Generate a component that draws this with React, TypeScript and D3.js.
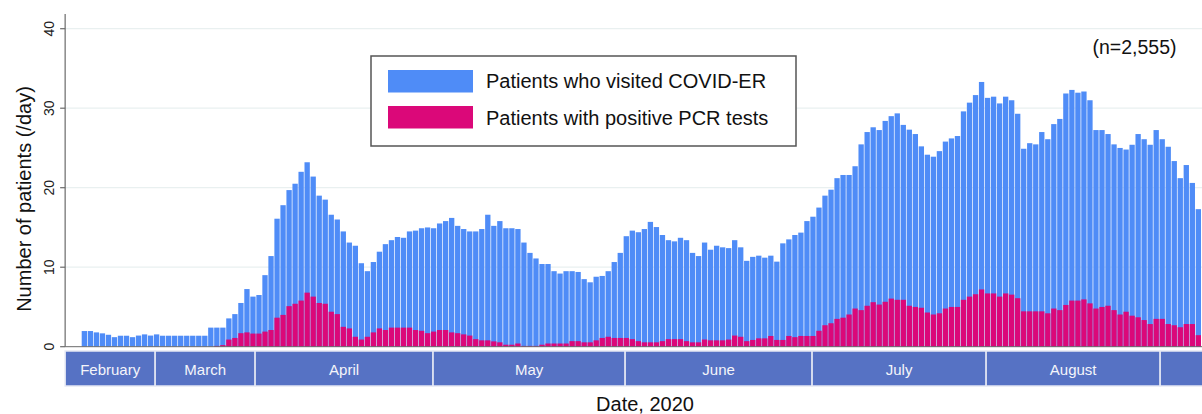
import React from "react"
import * as d3 from "d3"

// daily counts (186 bars)
const visited: number[] = [
  1.97, 1.97, 1.8, 1.68, 1.5, 1.2, 1.38, 1.38, 1.2, 1.4, 1.55, 1.4, 1.55,
  1.38, 1.38, 1.38, 1.38, 1.38, 1.38, 1.38, 1.38,
  2.4, 2.4, 2.4,
  3.56, 4.1, 5.5, 7.25, 6.3, 6.5, 9.0, 11.4, 16.1, 17.8, 19.7, 20.5, 22.0, 23.2,
  21.4, 19.0, 18.5, 16.6, 16.0, 14.5, 13.1, 12.7, 10.5, 9.5, 10.65, 11.95, 12.9, 13.4, 13.8, 13.7,
  14.5, 14.6, 14.9, 15.0, 14.9, 15.5, 15.8, 16.2, 15.2, 14.8, 14.5, 14.5, 14.8, 16.6, 15.2, 15.8,
  14.9, 14.9, 14.8, 13.1, 11.8,
  11.1, 10.4, 10.4, 9.5, 9.2, 9.5, 9.5, 9.4, 8.5, 8.1, 8.8, 8.9, 9.5, 10.65, 11.8, 13.9, 14.6, 14.4,
  14.8, 15.7, 15.05, 14.05, 13.4, 13.25, 13.7, 13.4, 11.8, 11.4, 13.1, 12.2, 12.7, 12.5, 12.4, 13.4,
  12.5, 10.8,
  11.3, 11.45, 11.2, 11.45, 10.7, 13.0, 13.5, 14.05, 14.35, 15.8, 16.35, 17.5, 19.0, 19.75, 21.2,
  21.6, 21.6, 22.7, 25.45, 27.0, 27.6, 27.25, 28.4, 29.0, 29.35, 27.9, 27.3, 26.75, 25.2, 24.15,
  23.9, 24.6, 25.8, 26.2, 26.5, 29.6, 30.7,
  31.65, 33.3, 31.3, 31.45, 30.6, 31.45, 31.0, 29.3, 24.9, 25.6, 25.45, 27.0, 26.1, 28.0, 28.65,
  31.85, 32.3, 31.95, 32.1, 31.0, 27.25, 27.25, 26.75, 25.45, 25.0, 24.8, 25.4, 26.75, 26.1, 25.4,
  27.25, 26.1, 25.15, 23.35, 21.2, 22.85, 20.6, 17.3,
]

const positive: number[] = [
  0, 0, 0, 0, 0, 0, 0, 0, 0, 0, 0, 0, 0, 0, 0, 0, 0, 0, 0, 0, 0,
  0, 0.1, 0.2,
  0.9, 1.1, 1.7, 1.8, 1.65, 1.65, 1.9, 2.1, 3.65, 4.0, 5.1, 5.4, 5.8, 6.8,
  6.3, 5.5, 5.4, 4.4, 4.1, 2.5, 2.3, 1.25, 0.9, 1.25, 1.8, 2.3, 2.1, 2.4, 2.4, 2.4, 2.4, 2.1, 2.0,
  1.7, 1.9, 2.1, 2.1, 1.8, 1.7, 1.55, 1.4, 0.95, 0.8, 0.8, 0.67, 0.55, 0.25, 0.25, 0.4, 0.1, 0.1,
  0.1, 0.25, 0.4, 0.4, 0.4, 0.4, 0.7, 0.7, 0.55, 0.55, 0.8, 1.1, 1.25, 1.1, 1.1, 1.1, 0.95, 0.7,
  0.55, 0.55, 0.55, 0.7, 0.95, 0.95, 0.95, 0.7, 0.55, 0.55, 0.9, 0.8, 0.8, 0.8, 0.9, 1.4, 1.25, 0.7,
  0.85, 1.05, 1.05, 1.35, 0.85, 0.85, 1.35, 1.2, 1.35, 1.35, 1.35, 2.0, 2.7, 2.95, 3.5, 3.65, 4.05,
  4.8, 4.6, 5.15, 5.6, 5.3, 5.65, 6.05, 5.9, 5.9, 5.15, 5.0, 4.9, 4.3, 4.05, 4.2, 4.8, 5.0, 5.0,
  5.9, 6.3,
  6.6, 7.2, 6.7, 6.7, 6.3, 6.7, 6.55, 6.1, 4.45, 4.45, 4.45, 4.45, 4.2, 4.8, 4.6, 5.25, 5.8, 5.8,
  5.95, 5.45, 4.8, 5.0, 5.15, 4.6, 4.05, 4.4, 3.9, 3.7, 3.35, 2.85, 3.5, 3.5, 2.85, 2.7, 2.45,
  2.85, 2.85, 1.45,
]

// month band: label and start/end in bar units
const monthNames = ["February", "March", "April", "May", "June", "July", "August", ""]
const monthStart = [-2.75, 12.2, 28.8, 58.35, 90.25, 121.3, 150.2, 179.1]
const monthEnd = [12.2, 28.8, 58.35, 90.25, 121.3, 150.2, 179.1, 190]

const yTicks = [0, 10, 20, 30, 40]
const seriesNames = ["Patients who visited COVID-ER", "Patients with positive PCR tests"]

const W = 1202
const H = 414
const BLUE = "#4f8cf7"
const PINK = "#db0879"
const BAND = "#5672c4"
const FONT = "'Liberation Sans', Arial, Helvetica, sans-serif"

export default function App() {
  const x = d3.scaleLinear().domain([0, visited.length]).range([81.7, 1201.7])
  const y = d3.scaleLinear().domain([0, 40]).range([346.7, 28.7])
  const axisX = x(-2.75)
  const step = x(1) - x(0)

  return (
    <svg
      width={W}
      height={H}
      style={{ position: "absolute", left: 0, top: 0, background: "#fff" }}
      fontFamily={FONT}
    >
      {/* grid */}
      {yTicks.slice(1).map(t => (
        <line key={t} x1={axisX} x2={W} y1={y(t)} y2={y(t)} stroke="#e9f0f0" strokeWidth={1.2} />
      ))}

      {/* bars */}
      {visited.map((v, i) => (
        <rect key={"v" + i} x={x(i)} y={y(v)} width={step - 0.7} height={y(0) - y(v)} fill={BLUE} />
      ))}
      {positive.map((v, i) =>
        v > 0 ? (
          <rect key={"p" + i} x={x(i)} y={y(v)} width={step - 0.7} height={y(0) - y(v)} fill={PINK} />
        ) : null
      )}

      {/* axes */}
      <line x1={axisX} x2={W} y1={y(0)} y2={y(0)} stroke="#6a6a6a" strokeWidth={1} />
      <line x1={axisX} x2={axisX} y1={14} y2={y(0)} stroke="#6a6a6a" strokeWidth={1.2} />
      {yTicks.map(t => (
        <g key={"t" + t}>
          <line x1={axisX - 5} x2={axisX} y1={y(t)} y2={y(t)} stroke="#6a6a6a" strokeWidth={1.2} />
          <text
            transform={`translate(54,${y(t)}) rotate(-90)`}
            textAnchor="middle"
            fontSize={14}
            fill="#222"
          >
            {t}
          </text>
        </g>
      ))}
      <text transform="translate(31,199) rotate(-90)" textAnchor="middle" fontSize={20} fill="#111">
        Number of patients (/day)
      </text>

      {/* month band */}
      {monthNames.map((m, i) => {
        const x0 = Math.max(x(monthStart[i]), axisX)
        const x1 = Math.min(x(monthEnd[i]), W + 2)
        return (
          <g key={"m" + i}>
            <rect x={x0} y={351} width={x1 - x0} height={35} fill={BAND} stroke="#e6e9f4" strokeWidth={1.5} />
            {m && (
              <text x={(x0 + x1) / 2} y={375} textAnchor="middle" fontSize={15} fill="#f4f5fa">
                {m}
              </text>
            )}
          </g>
        )
      })}
      <text x={645} y={411} textAnchor="middle" fontSize={20} fill="#111">
        Date, 2020
      </text>

      {/* legend */}
      <rect x={371} y={56} width={425} height={90} fill="#fff" stroke="#555" strokeWidth={1.5} />
      <rect x={388} y={70} width={85} height={22.5} fill={BLUE} />
      <rect x={388} y={106} width={85} height={22.5} fill={PINK} />
      <text x={486} y={88} fontSize={20} fill="#111">{seriesNames[0]}</text>
      <text x={486} y={125} fontSize={20} fill="#111">{seriesNames[1]}</text>

      <text x={1134.5} y={54} textAnchor="middle" fontSize={19.5} fill="#111">(n=2,555)</text>
    </svg>
  )
}
